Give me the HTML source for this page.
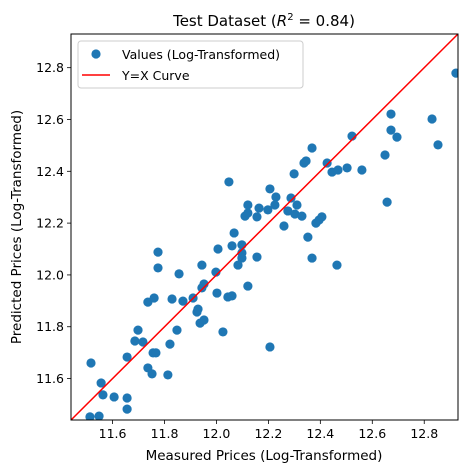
<!DOCTYPE html>
<html><head><meta charset="utf-8"><style>
html,body{margin:0;padding:0;background:#fff;}
svg{display:block;font-family:"DejaVu Sans","Liberation Sans",sans-serif;}
</style></head><body>
<svg id="chart" width="467" height="473">
<text x="264" y="26" font-size="15" text-anchor="middle">Test Dataset (<tspan font-style="italic">R</tspan><tspan font-size="10" dy="-6">2</tspan><tspan dy="6"> = 0.84)</tspan></text>
<g id="plot"></g>
<text x="264" y="460" font-size="13.5" text-anchor="middle">Measured Prices (Log-Transformed)</text>
<text transform="translate(21,227) rotate(-90)" font-size="13.5" text-anchor="middle">Predicted Prices (Log-Transformed)</text>
</svg>
<script>
const measured = [11.517,11.556,11.563,11.606,11.656,11.656,11.513,11.548,11.656,11.698,11.686,11.717,11.736,11.752,11.756,11.767,11.813,11.821,11.848,11.775,11.775,11.736,11.760,11.829,11.871,11.856,11.910,11.925,11.929,11.937,11.952,12.025,11.944,11.998,11.944,11.952,12.002,12.044,12.060,12.121,12.006,12.060,12.098,12.098,12.098,12.083,12.156,12.206,12.068,12.048,12.110,12.121,12.121,12.156,12.164,12.198,12.206,12.229,12.225,12.260,12.275,12.287,12.299,12.302,12.310,12.329,12.352,12.368,12.337,12.345,12.368,12.383,12.395,12.406,12.426,12.445,12.468,12.464,12.503,12.522,12.560,12.649,12.657,12.672,12.672,12.695,12.830,12.853,12.922];
const predicted = [11.660,11.583,11.537,11.529,11.525,11.482,11.452,11.455,11.683,11.787,11.745,11.741,11.641,11.618,11.699,11.699,11.614,11.733,11.787,12.088,12.027,11.895,11.911,11.907,11.899,12.004,11.911,11.857,11.868,11.814,11.826,11.780,12.038,12.011,11.950,11.965,11.930,11.915,11.919,11.957,12.100,12.112,12.116,12.085,12.065,12.038,12.069,11.722,12.162,12.359,12.227,12.239,12.270,12.224,12.258,12.251,12.332,12.301,12.270,12.189,12.247,12.297,12.390,12.235,12.270,12.227,12.146,12.065,12.432,12.440,12.490,12.200,12.212,12.224,12.432,12.397,12.405,12.038,12.413,12.536,12.405,12.463,12.281,12.621,12.559,12.532,12.602,12.502,12.779];
const tickValues = [11.6,11.8,12.0,12.2,12.4,12.6,12.8];
const tickLabels = ["11.6","11.8","12.0","12.2","12.4","12.6","12.8"];
const lim = [11.44, 12.93];

const L=71,R=458,T=34,B=420;
const sx=v=>L+(v-lim[0])/(lim[1]-lim[0])*(R-L);
const sy=v=>B-(v-lim[0])/(lim[1]-lim[0])*(B-T);
const NS="http://www.w3.org/2000/svg";
const g=document.getElementById('plot');
function mk(tag,attrs,parent){const e=document.createElementNS(NS,tag);for(const k in attrs)e.setAttribute(k,attrs[k]);(parent||g).appendChild(e);return e;}

const clip=mk('clipPath',{id:'clipArea'});
mk('rect',{x:L,y:T,width:R-L,height:B-T},clip);

const pts=mk('g',{'clip-path':'url(#clipArea)'});


for(let i=0;i<measured.length;i++){
  const c=mk('circle',{cx:sx(measured[i]),cy:sy(predicted[i]),r:4.6,fill:'#1f77b4'},pts);
  
  
}
const ln=mk('line',{x1:sx(lim[0]),y1:sy(lim[0]),x2:sx(lim[1]),y2:sy(lim[1]),stroke:'#ff0000','stroke-width':1.5,'clip-path':'url(#clipArea)'});



const frame=mk('rect',{x:L,y:T,width:R-L,height:B-T,fill:'none',stroke:'#000','stroke-width':1});



tickValues.forEach((v,i)=>{
  const x=sx(v);
  mk('line',{x1:x,y1:B,x2:x,y2:B+4,stroke:'#000','stroke-width':0.8});
  const tx=mk('text',{x:x,y:B+18,'font-size':12.5,'text-anchor':'middle'});
  tx.textContent=tickLabels[i];
  
  
  const y=sy(v);
  mk('line',{x1:L-4,y1:y,x2:L,y2:y,stroke:'#000','stroke-width':0.8});
  const ty=mk('text',{x:L-7,y:y+4.5,'font-size':12.5,'text-anchor':'end'});
  ty.textContent=tickLabels[i];
  
  
});

const leg=mk('g',{});


mk('rect',{x:78,y:41,width:225,height:47,rx:3,fill:'#fff','fill-opacity':0.8,stroke:'#ccc','stroke-width':1},leg);
mk('circle',{cx:96,cy:54,r:4.6,fill:'#1f77b4'},leg);
const t1=mk('text',{x:122,y:59,'font-size':12.5},leg);
t1.textContent='Values (Log-Transformed)';


mk('line',{x1:82,y1:75,x2:110,y2:75,stroke:'#ff0000','stroke-width':1.5},leg);
const t2=mk('text',{x:122,y:80,'font-size':12.5},leg);
t2.textContent='Y=X Curve';


</script>
</body></html>
